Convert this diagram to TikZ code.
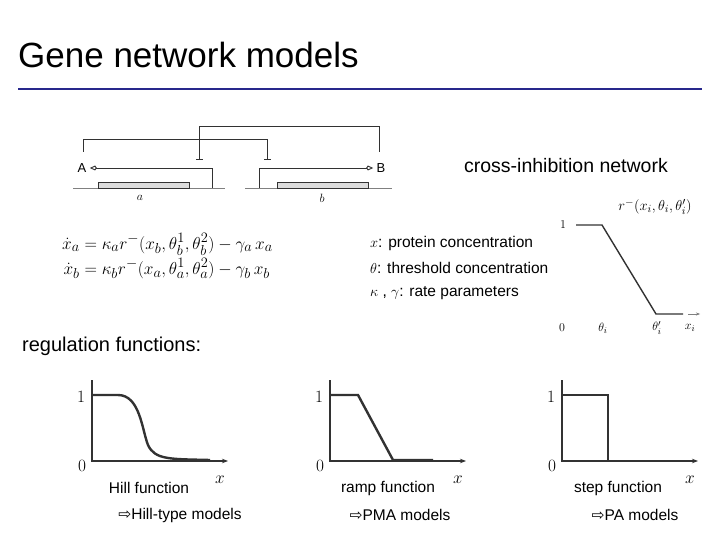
\documentclass[tikz,border=0pt]{standalone}
\usepackage{fontspec}
\setmainfont{Liberation Sans}
\newfontfamily\symfont{DejaVu Sans}
\usepackage{amsmath}
\usetikzlibrary{arrows.meta,positioning}
\definecolor{titleblue}{RGB}{40,40,140}
\definecolor{ink}{RGB}{50,50,50}
\definecolor{boxfill}{RGB}{220,220,220}
\tikzset{
  curve/.style={line width=2.4pt, ink},
  axis/.style={line width=1.5pt, ink},
  gene/.style={draw=ink, fill=boxfill, line width=0.8pt},
  wire/.style={ink, line width=0.9pt},
  lbl/.style={font=\fontsize{15.5}{18}\selectfont, inner sep=0pt},
  digit/.style={font=\fontsize{18}{20}\selectfont, inner sep=0pt}
}
\begin{document}
\begin{tikzpicture}[x=1pt,y=-1pt]
\useasboundingbox (0,0) rectangle (720,540);
% Title
\node[anchor=west, font=\fontsize{35}{38}\selectfont, inner sep=0pt] (title) at (18,55) {Gene network models};
\draw[titleblue, line width=1.8pt] (18,89) -- (702,89);

% Network
\draw[gray, line width=0.6pt] (73,188) -- (225,188);
\draw[gray, line width=0.6pt] (245,188) -- (392,188);
\draw[gene] (98,182) rectangle (189,188);
\draw[gene] (277,182) rectangle (368,188);
\node[font=\fontsize{13}{15}\selectfont] (ga) at (140,198) {$a$};
\node[font=\fontsize{13}{15}\selectfont] (gb) at (322,198) {$b$};
\node[font=\fontsize{13}{15}\selectfont] (pA) at (82,168) {A};
\node[font=\fontsize{13}{15}\selectfont] (pB) at (381,168) {B};
\draw[wire, -{Kite[open,length=7pt,width=5pt]}] (212,188) -- (212,168) -- (pA.east);
\draw[wire, -{Kite[open,length=7pt,width=5pt]}] (259,188) -- (259,168) -- (pB.west);
\draw[wire, -{Bar[width=7pt]}] (83,152) -- (83,139) -- (267,139) -- (267,160);
\draw[wire, -{Bar[width=7pt]}] (379,152) -- (379,126) -- (199,126) -- (199,160);
\node[font=\fontsize{19.5}{22}\selectfont, inner sep=0pt] (net) at (566,166) {cross-inhibition network};

% Equations
\node[anchor=west, inner sep=0pt, font=\fontsize{19}{22}\selectfont] (eqs) at (62,257) {$\begin{aligned}
\dot x_a &= \kappa_a r^-(x_b,\theta_b^1,\theta_b^2) - \gamma_a\, x_a\\[-2pt]
\dot x_b &= \kappa_b r^-(x_a,\theta_a^1,\theta_a^2) - \gamma_b\, x_b
\end{aligned}$};
\node[lbl, anchor=west] (l1) at (370,243) {$x$: protein concentration};
\node[lbl, anchor=west] (l2) at (370,268) {$\theta$: threshold concentration};
\node[lbl, anchor=west] (l3) at (370,293) {$\kappa$ , $\gamma$: rate parameters};

% Ramp graph
\node[font=\fontsize{13}{15}\selectfont] (r1) at (563,225) {$1$};
\draw[curve, line width=1.4pt] (576,225) -- (602,225) -- (656,314) -- (683,314);
\draw[gray, -{Stealth[length=4pt]}] (688,314) -- (700,314);
\node[font=\fontsize{15}{17}\selectfont] (rt) at (655,207) {$r^-(x_i,\theta_i,\theta_i')$};
\node[font=\fontsize{13}{15}\selectfont] (r0) at (562,328) {$0$};
\node[font=\fontsize{13}{15}\selectfont] (rth) at (603,328) {$\theta_i$};
\node[font=\fontsize{13}{15}\selectfont] (rth2) at (657,328) {$\theta_i'$};
\node[font=\fontsize{13}{15}\selectfont] (rx) at (690,328) {$x_i$};

\node[anchor=west, font=\fontsize{20}{22}\selectfont, inner sep=0pt] (reg) at (22,346) {regulation functions:};

% Bottom plots
\foreach \dx/\fx/\fname/\mx/\mname in {0/149/Hill function/180/Hill-type models,
    238/150/ramp function/162/PMA models, 470/148/step function/165/PA models}{
  \begin{scope}[xshift=\dx]
    \draw[axis, -{Stealth[length=6pt]}] (92,380) -- (92,461) -- (228,461);
    \node[digit] at (81,397) {$1$};
    \node[digit] at (82,466) {$0$};
    \node[digit] at (220,480) {$x$};
    \node[lbl] at (\fx,488) {\fname};
    \node[lbl] at (\mx,515) {{\symfont ⇨}\mname};
  \end{scope}
}
\draw[curve] (92,395) -- (118,395) .. controls (140,395) and (142,430) .. (148,445)
  .. controls (155,460) and (170,459) .. (210,460);
\begin{scope}[xshift=238]
\draw[curve] (92,395) -- (120,395) -- (155,460) -- (195,460);
\end{scope}
\begin{scope}[xshift=470]
\draw[curve] (92,395) -- (138,395) -- (138,460);
\end{scope}
\end{tikzpicture}
\end{document}
